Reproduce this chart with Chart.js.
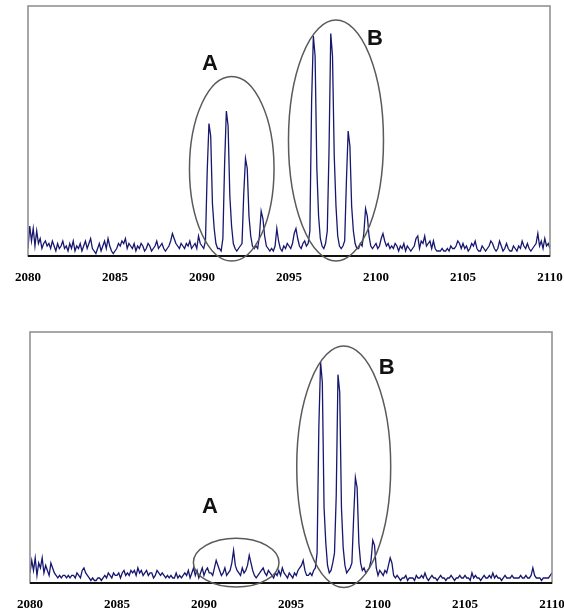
<!DOCTYPE html>
<html>
<head>
<meta charset="utf-8">
<script src="https://cdn.jsdelivr.net/npm/chart.js@4.4.1/dist/chart.umd.min.js"></script>
<style>
  body { margin: 0; background: #fff; }
  #wrap { position: relative; width: 564px; height: 614px; }
  #topBox { position: absolute; left: 0; top: 0; width: 564px; height: 295px; }
  #bottomBox { position: absolute; left: 0; top: 300px; width: 564px; height: 314px; }
</style>
</head>
<body>
<div id="wrap">
  <div id="topBox"><canvas id="topChart"></canvas></div>
  <div id="bottomBox"><canvas id="bottomChart"></canvas></div>
</div>
<script>
// m/z sampling grid (one value every 0.1 Da)
const MZ_START = 2080;
const MZ_STEP = 0.1;
const TICK_VALUES = [2080, 2085, 2090, 2095, 2100, 2105, 2110];

// relative intensity, upper spectrum (one row = 1 Da)
const TOP_INTENSITY = [
  3, 12, 6, 11, 4, 10, 5, 7, 3, 5,     // 2080
  6, 4, 5, 3, 6, 4, 2, 5, 3, 4,        // 2081
  6, 3, 4, 2, 5, 3, 6, 2, 4, 3,        // 2082
  5, 2, 4, 6, 3, 5, 7, 3, 2, 1,        // 2083
  3, 5, 2, 4, 6, 3, 7, 4, 2, 1,        // 2084
  2, 3, 5, 4, 6, 5, 7, 3, 5, 4,        // 2085
  3, 5, 2, 4, 3, 5, 4, 2, 3, 5,        // 2086
  4, 2, 3, 4, 6, 3, 4, 5, 3, 2,        // 2087
  3, 4, 6, 9, 7, 5, 4, 3, 5, 4,        // 2088
  3, 5, 4, 6, 3, 4, 5, 3, 8, 5,        // 2089
  4, 3, 6, 34, 53, 48, 21, 11, 5, 3,   // 2090
  3, 2, 7, 37, 58, 52, 24, 12, 5, 3,   // 2091
  2, 3, 4, 5, 25, 39, 35, 16, 8, 4,    // 2092
  3, 4, 3, 8, 18, 15, 8, 4, 3, 2,      // 2093
  3, 2, 4, 11, 6, 3, 2, 4, 3, 5,       // 2094
  4, 3, 5, 9, 11, 7, 4, 3, 5, 6,       // 2095
  4, 5, 10, 62, 88, 80, 35, 16, 7, 4,  // 2096
  3, 5, 10, 42, 89, 80, 40, 20, 8, 4,  // 2097
  3, 4, 6, 30, 50, 44, 20, 10, 5, 3,   // 2098
  3, 5, 4, 9, 19, 16, 8, 4, 3, 4,      // 2099
  5, 3, 4, 7, 9, 6, 4, 5, 3, 4,        // 2100
  3, 5, 4, 2, 4, 3, 5, 2, 4, 3,        // 2101
  2, 3, 4, 7, 8, 3, 6, 5, 8, 4,        // 2102
  5, 6, 3, 6, 3, 2, 2, 2, 3, 2,        // 2103
  2, 3, 2, 4, 3, 3, 4, 6, 5, 3,        // 2104
  5, 3, 4, 2, 3, 5, 4, 6, 3, 2,        // 2105
  2, 4, 3, 2, 3, 4, 6, 5, 3, 2,        // 2106
  3, 6, 4, 2, 3, 5, 3, 2, 2, 4,        // 2107
  3, 2, 4, 3, 6, 4, 3, 5, 3, 2,        // 2108
  3, 4, 5, 9, 4, 6, 3, 7, 4, 5,        // 2109
  3                                    // 2110
];

// relative intensity, lower spectrum
const BOTTOM_INTENSITY = [
  4, 9, 5, 10, 3, 8, 6, 10, 4, 7,      // 2080
  5, 3, 8, 6, 4, 3, 2, 3, 2, 3,        // 2081
  3, 2, 3, 2, 3, 3, 2, 4, 3, 2,        // 2082
  5, 6, 4, 3, 2, 1, 2, 1, 1, 2,        // 2083
  2, 1, 2, 3, 2, 4, 3, 2, 4, 3,        // 2084
  3, 4, 2, 4, 5, 3, 4, 3, 5, 4,        // 2085
  5, 3, 6, 4, 5, 3, 4, 5, 3, 4,        // 2086
  4, 2, 3, 5, 4, 3, 4, 3, 2, 3,        // 2087
  2, 3, 2, 2, 4, 2, 3, 2, 3, 4,        // 2088
  3, 5, 2, 4, 6, 3, 5, 2, 4, 6,        // 2089
  3, 5, 6, 4, 4, 3, 6, 9, 7, 5,        // 2090
  3, 4, 6, 3, 4, 5, 8, 13, 7, 5,       // 2091
  4, 3, 6, 4, 5, 7, 11, 8, 5, 3,       // 2092
  2, 3, 4, 5, 6, 4, 3, 5, 4, 3,        // 2093
  2, 4, 3, 5, 3, 6, 4, 3, 2, 4,        // 2094
  3, 2, 4, 3, 5, 6, 7, 9, 5, 3,        // 2095
  3, 4, 3, 5, 6, 12, 62, 88, 80, 30,   // 2096
  16, 7, 4, 5, 8, 12, 35, 83, 76, 30,  // 2097
  14, 7, 4, 5, 6, 8, 26, 42, 38, 16,   // 2098
  8, 5, 6, 4, 5, 6, 9, 17, 15, 6,      // 2099
  3, 5, 4, 3, 5, 4, 7, 10, 8, 3,       // 2100
  2, 3, 2, 1, 2, 2, 3, 1, 2, 2,        // 2101
  2, 1, 3, 2, 2, 3, 2, 4, 2, 1,        // 2102
  2, 3, 2, 2, 1, 2, 3, 2, 2, 1,        // 2103
  2, 2, 3, 2, 1, 2, 2, 3, 2, 2,        // 2104
  3, 2, 2, 1, 4, 2, 3, 2, 2, 1,        // 2105
  2, 3, 2, 2, 3, 2, 4, 2, 3, 2,        // 2106
  2, 1, 2, 3, 2, 2, 2, 3, 2, 2,        // 2107
  2, 2, 3, 2, 2, 3, 2, 2, 3, 6,        // 2108
  3, 2, 2, 2, 1, 2, 2, 2, 2, 3,        // 2109
  4                                    // 2110
];

// circled clusters: [centre m/z, centre intensity, half width (Da), half height]
const TOP_CIRCLES = [[2091.71, 34.9, 2.43, 36.9], [2097.70, 46.2, 2.73, 48.2]];
const BOTTOM_CIRCLES = [[2091.85, 8.1, 2.46, 9.7], [2098.03, 46.3, 2.70, 48.1]];
const CIRCLE_NAMES = ['A', 'B'];
const TOP_NAME_POS = [[2090.46, 77], [2099.94, 87]];
const BOTTOM_NAME_POS = [[2090.34, 30.4], [2100.50, 85.5]];

const toPoints = arr => arr.map((v, i) => ({ x: MZ_START + i * MZ_STEP, y: v }));

// frame around the plot + the ellipses and letters
const markup = {
  id: 'markup',
  afterDatasetsDraw(chart, args, opts) {
    const ctx = chart.ctx;
    const a = chart.chartArea;
    const xs = chart.scales.x, ys = chart.scales.y;
    ctx.save();
    ctx.strokeStyle = '#8a8a8a';
    ctx.lineWidth = 1.5;
    ctx.strokeRect(a.left, a.top, a.right - a.left, a.bottom - a.top);
    ctx.strokeStyle = '#111';
    ctx.lineWidth = 2;
    ctx.beginPath();
    ctx.moveTo(a.left, a.bottom);
    ctx.lineTo(a.right, a.bottom);
    ctx.stroke();

    ctx.strokeStyle = '#5a5a5a';
    ctx.lineWidth = 1.5;
    opts.circles.forEach(c => {
      const cx = xs.getPixelForValue(c[0]);
      const cy = ys.getPixelForValue(c[1]);
      const rx = xs.getPixelForValue(c[0] + c[2]) - cx;
      const ry = cy - ys.getPixelForValue(c[1] + c[3]);
      ctx.beginPath();
      ctx.ellipse(cx, cy, rx, ry, 0, 0, Math.PI * 2);
      ctx.stroke();
    });

    ctx.fillStyle = '#111';
    ctx.font = 'bold 22px "Liberation Sans", Arial, sans-serif';
    ctx.textAlign = 'center';
    ctx.textBaseline = 'middle';
    opts.names.forEach((p, i) => {
      ctx.fillText(CIRCLE_NAMES[i], xs.getPixelForValue(p[0]), ys.getPixelForValue(p[1]));
    });
    ctx.restore();
  }
};

function makeSpectrum(canvasId, values, circles, names, pad) {
  return new Chart(document.getElementById(canvasId), {
    type: 'line',
    data: {
      datasets: [{
        data: toPoints(values),
        borderColor: '#17176f',
        borderWidth: 1.3,
        pointRadius: 0,
        tension: 0,
        fill: false
      }]
    },
    options: {
      responsive: true,
      maintainAspectRatio: false,
      animation: false,
      layout: { padding: pad },
      plugins: {
        legend: { display: false },
        tooltip: { enabled: false },
        markup: { circles: circles, names: names }
      },
      scales: {
        x: {
          type: 'linear',
          min: 2080,
          max: 2110,
          afterBuildTicks: s => { s.ticks = TICK_VALUES.map(v => ({ value: v })); },
          afterFit: s => { s.height = 30; s.paddingLeft = 0; s.paddingRight = 0; },
          grid: { display: false, drawTicks: false },
          border: { display: false },
          ticks: {
            padding: 14,
            maxRotation: 0,
            autoSkip: false,
            color: '#000',
            font: { family: '"Liberation Serif", serif', size: 13, weight: 'bold' },
            callback: v => String(v)
          }
        },
        y: {
          display: false,
          min: 0,
          max: 100
        }
      }
    },
    plugins: [markup]
  });
}

makeSpectrum('topChart', TOP_INTENSITY, TOP_CIRCLES, TOP_NAME_POS,
  { left: 28, right: 14, top: 6, bottom: 9 });
makeSpectrum('bottomChart', BOTTOM_INTENSITY, BOTTOM_CIRCLES, BOTTOM_NAME_POS,
  { left: 30, right: 12, top: 32, bottom: 1 });
</script>
</body>
</html>
